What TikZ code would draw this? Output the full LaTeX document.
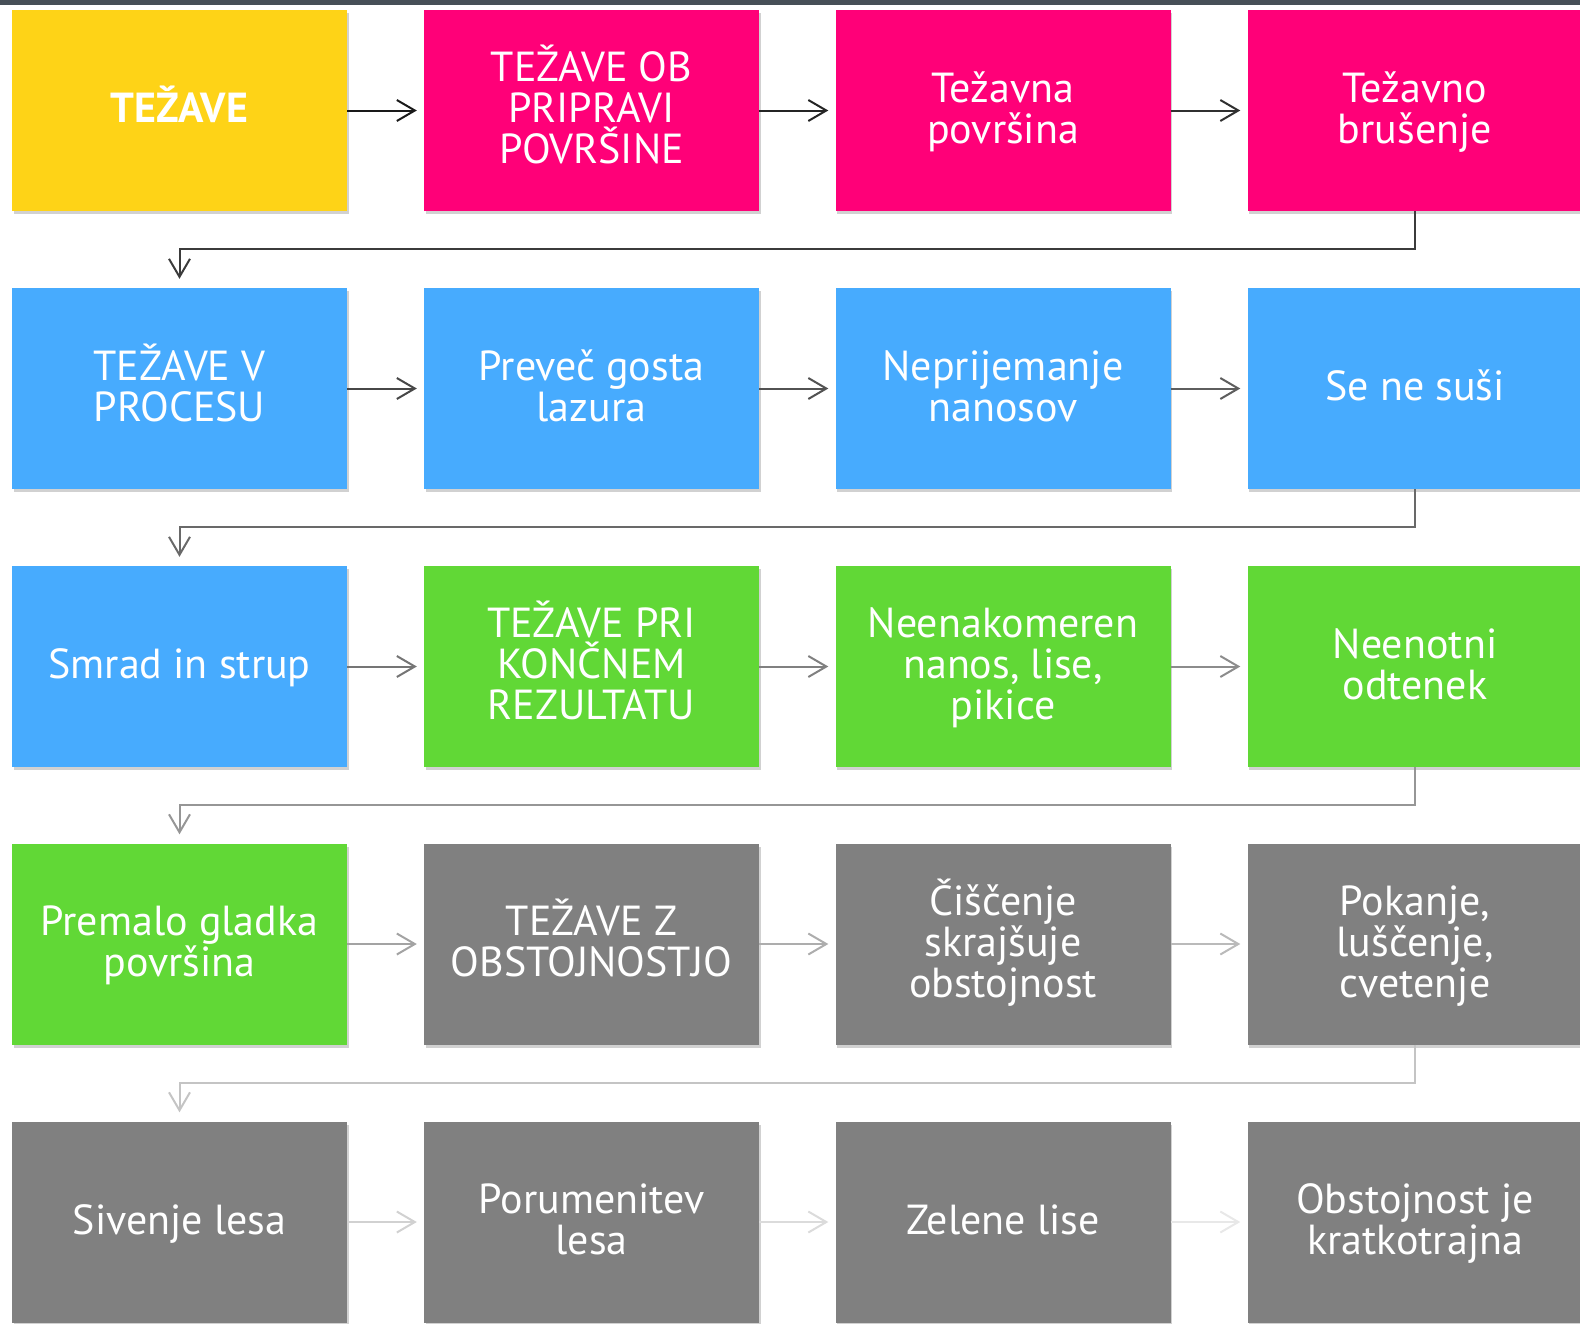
\documentclass[tikz,border=0pt]{standalone}
\usepackage{fontspec}
\setmainfont{PT Sans}
\usetikzlibrary{arrows.meta,shadows,calc}
\definecolor{cyel}{HTML}{FED317}
\definecolor{cpink}{HTML}{FF0078}
\definecolor{cblue}{HTML}{47ABFE}
\definecolor{cgreen}{HTML}{61D836}
\definecolor{cgray}{HTML}{808080}
\definecolor{cbar}{HTML}{474F57}
% lines on a fixed 41pt grid, independent of accents
\newcommand{\tx}[1]{{\setbox0=\vbox{\baselineskip=41pt\lineskiplimit=-1000pt\lineskip=0pt\let\\\cr\hbox{}\halign{\hfil##\hfil\cr#1\crcr}}\dp0=17pt\box0}}
\tikzset{
  box/.style={minimum width=335pt,minimum height=201pt,inner sep=0pt,
    text=white,font=\fontsize{42}{41}\selectfont,
    drop shadow={shadow xshift=1.5pt,shadow yshift=-3pt,opacity=0.18,fill=black}},
  arr/.style={line width=2pt,-{Straight Barb[length=18pt,width=21pt,line width=2pt]}},
}
\begin{document}
\begin{tikzpicture}[x=1pt,y=-1pt]
\useasboundingbox (0,0) rectangle (1580,1323);
\fill[cbar] (0,0) rectangle (1580,4.5);
% columns x: 179.5, 591.5, 1003, 1415 ; rows y: 110.5, 388.5, 666.5, 944, 1222
\node[box,fill=cyel,font=\fontsize{42}{41}\selectfont\bfseries] (n11) at (179.5,110.5) {\tx{TEŽAVE}};
\node[box,fill=cpink] (n12) at (591.5,110.5) {\tx{TEŽAVE OB\\PRIPRAVI\\POVRŠINE}};
\node[box,fill=cpink] (n13) at (1003,110.5) {\tx{Težavna\\površina}};
\node[box,fill=cpink] (n14) at (1415,110.5) {\tx{Težavno\\brušenje}};
\node[box,fill=cblue] (n21) at (179.5,388.5) {\tx{TEŽAVE V\\PROCESU}};
\node[box,fill=cblue] (n22) at (591.5,388.5) {\tx{Preveč gosta\\lazura}};
\node[box,fill=cblue] (n23) at (1003,388.5) {\tx{Neprijemanje\\nanosov}};
\node[box,fill=cblue] (n24) at (1415,388.5) {\tx{Se ne suši}};
\node[box,fill=cblue] (n31) at (179.5,666.5) {\tx{Smrad in strup}};
\node[box,fill=cgreen] (n32) at (591.5,666.5) {\tx{TEŽAVE PRI\\KONČNEM\\REZULTATU}};
\node[box,fill=cgreen] (n33) at (1003,666.5) {\tx{Neenakomeren\\nanos, lise,\\pikice}};
\node[box,fill=cgreen] (n34) at (1415,666.5) {\tx{Neenotni\\odtenek}};
\node[box,fill=cgreen] (n41) at (179.5,944) {\tx{Premalo gladka\\površina}};
\node[box,fill=cgray] (n42) at (591.5,944) {\tx{TEŽAVE Z\\OBSTOJNOSTJO}};
\node[box,fill=cgray] (n43) at (1003,944) {\tx{Čiščenje\\skrajšuje\\obstojnost}};
\node[box,fill=cgray] (n44) at (1415,944) {\tx{Pokanje,\\luščenje,\\cvetenje}};
\node[box,fill=cgray] (n51) at (179.5,1222) {\tx{Sivenje lesa}};
\node[box,fill=cgray] (n52) at (591.5,1222) {\tx{Porumenitev\\lesa}};
\node[box,fill=cgray] (n53) at (1003,1222) {\tx{Zelene lise}};
\node[box,fill=cgray] (n54) at (1415,1222) {\tx{Obstojnost je\\kratkotrajna}};
% corner coordinates of the row connectors
\coordinate (m1) at (1415,249);
\coordinate (m2) at (1415,527);
\coordinate (m3) at (1415,805);
\coordinate (m4) at (1415,1082.5);
% arrows, fading from dark to light
\draw[arr,black!90] (n11.east) -- ([xshift=-7pt]n12.west);
\draw[arr,black!86] (n12.east) -- ([xshift=-7pt]n13.west);
\draw[arr,black!81] (n13.east) -- ([xshift=-7pt]n14.west);
\draw[arr,black!77] (n14.south) -- (m1) -| ([yshift=9pt]n21.north);
\draw[arr,black!72] (n21.east) -- ([xshift=-7pt]n22.west);
\draw[arr,black!68] (n22.east) -- ([xshift=-7pt]n23.west);
\draw[arr,black!63] (n23.east) -- ([xshift=-7pt]n24.west);
\draw[arr,black!59] (n24.south) -- (m2) -| ([yshift=9pt]n31.north);
\draw[arr,black!54] (n31.east) -- ([xshift=-7pt]n32.west);
\draw[arr,black!50] (n32.east) -- ([xshift=-7pt]n33.west);
\draw[arr,black!45] (n33.east) -- ([xshift=-7pt]n34.west);
\draw[arr,black!41] (n34.south) -- (m3) -| ([yshift=9pt]n41.north);
\draw[arr,black!36] (n41.east) -- ([xshift=-7pt]n42.west);
\draw[arr,black!32] (n42.east) -- ([xshift=-7pt]n43.west);
\draw[arr,black!27] (n43.east) -- ([xshift=-7pt]n44.west);
\draw[arr,black!23] (n44.south) -- (m4) -| ([yshift=9pt]n51.north);
\draw[arr,black!18] (n51.east) -- ([xshift=-7pt]n52.west);
\draw[arr,black!14] (n52.east) -- ([xshift=-7pt]n53.west);
\draw[arr,black!9] (n53.east) -- ([xshift=-7pt]n54.west);
\end{tikzpicture}
\end{document}
